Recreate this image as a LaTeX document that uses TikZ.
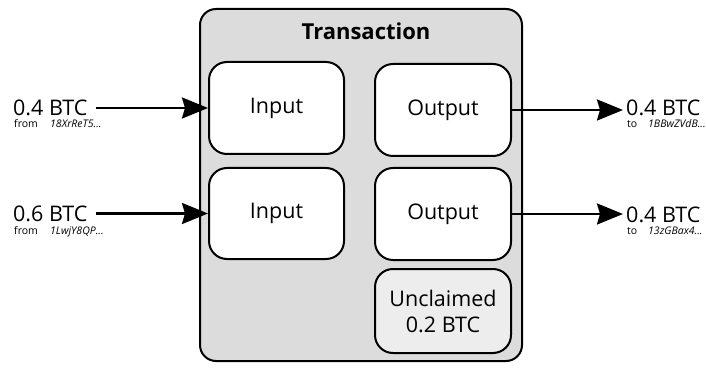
\documentclass[tikz,border=0pt]{standalone}
\usepackage{fontspec}
\setmainfont{Open Sans}
\usetikzlibrary{arrows.meta}
\definecolor{outerfill}{HTML}{DCDCDC}
\definecolor{unclfill}{HTML}{EDEDED}
\tikzset{
  box/.style={draw=black, line width=2pt, rounded corners=18pt, fill=white, inner sep=0pt, align=center, font=\fontsize{21.5}{26}\selectfont},
  outerbox/.style={draw=black, line width=2pt, rounded corners=16pt, fill=outerfill, inner sep=0pt},
  amount/.style={anchor=base west, inner sep=0pt, font=\fontsize{21.5}{25}\selectfont},
  small/.style={anchor=base west, inner sep=0pt, font=\fontsize{10.5}{12}\selectfont},
  addr/.style={anchor=base west, inner sep=0pt, font=\fontsize{10.5}{12}\selectfont\itshape},
  arr/.style={line width=2.5pt, -{Stealth[length=26pt, width=21pt, inset=3pt]}},
}
\begin{document}
\begin{tikzpicture}[x=1pt, y=-1pt]
\useasboundingbox (0,0) rectangle (706,371);
\node[outerbox, minimum width=322pt, minimum height=352pt] (tx) at (361,185) {};
\node[anchor=base, inner sep=0pt, font=\fontsize{22}{26}\selectfont\bfseries] (title) at (366,40) {Transaction};
\node[box, minimum width=135pt, minimum height=92pt] (in1) at (276.5,108) {Input};
\node[box, minimum width=135pt, minimum height=91pt] (in2) at (276.5,213.5) {Input};
\node[box, minimum width=136pt, minimum height=92pt] (out1) at (443,110) {Output};
\node[box, minimum width=136pt, minimum height=92pt] (out2) at (443,214) {Output};
\node[box, fill=unclfill, minimum width=136pt, minimum height=84pt] (uncl) at (443,311) {Unclaimed\\0.2 BTC};
% left labels
\node[amount] (l1) at (13,116) {0.4 BTC};
\node[small] (l1f) at (14,128) {from};
\node[addr] (l1a) at (50,128) {18XrReT5...};
\node[amount] (l2) at (13,222) {0.6 BTC};
\node[small] (l2f) at (14,234) {from};
\node[addr] (l2a) at (50,234) {1LwjY8QP...};
% right labels
\node[amount] (r1) at (626,116) {0.4 BTC};
\node[small] (r1f) at (627,128) {to};
\node[addr] (r1a) at (648,128) {1BBwZVdB...};
\node[amount] (r2) at (626,223) {0.4 BTC};
\node[small] (r2f) at (627,235) {to};
\node[addr] (r2a) at (648,235) {13zGBax4...};
% arrows
\draw[arr] ([xshift=8pt]in1.west -| l1.east) -- (in1.west);
\draw[arr] ([xshift=8pt]in2.west -| l2.east) -- (in2.west);
\draw[arr] (out1.east) -- ([xshift=-3pt]out1.east -| r1.west);
\draw[arr] (out2.east) -- ([xshift=-3pt]out2.east -| r2.west);
\end{tikzpicture}
\end{document}
